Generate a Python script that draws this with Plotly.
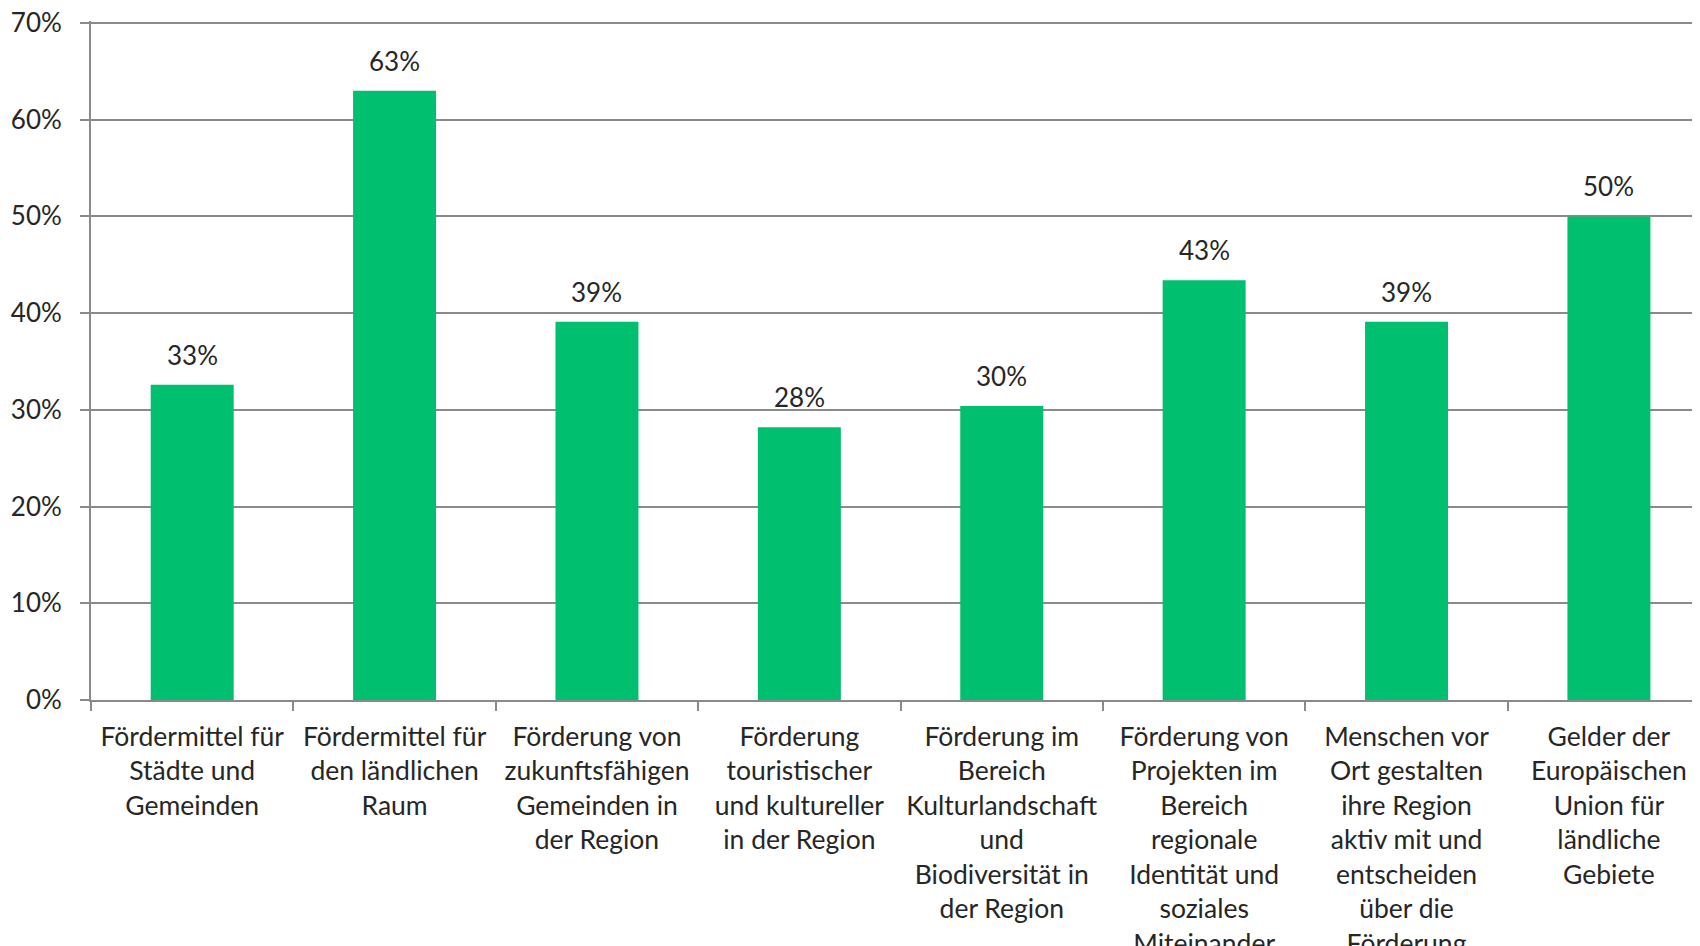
import plotly.graph_objects as go

categories = [
    "Fördermittel für<br>Städte und<br>Gemeinden",
    "Fördermittel für<br>den ländlichen<br>Raum",
    "Förderung von<br>zukunftsfähigen<br>Gemeinden in<br>der Region",
    "Förderung<br>touristischer<br>und kultureller<br>in der Region",
    "Förderung im<br>Bereich<br>Kulturlandschaft<br>und<br>Biodiversität in<br>der Region",
    "Förderung von<br>Projekten im<br>Bereich<br>regionale<br>Identität und<br>soziales<br>Miteinander",
    "Menschen vor<br>Ort gestalten<br>ihre Region<br>aktiv mit und<br>entscheiden<br>über die<br>Förderung",
    "Gelder der<br>Europäischen<br>Union für<br>ländliche<br>Gebiete",
]
values = [32.6, 63.0, 39.1, 28.2, 30.4, 43.4, 39.1, 50.0]
value_labels = [f"{v:.0f}%" for v in values]
y_ticks = [0, 10, 20, 30, 40, 50, 60, 70]

FONT = "Lato"
TEXT = "#262626"
GRID = "#8a8a8a"
GREEN = "#00BF6F"

fig = go.Figure()
fig.add_trace(go.Bar(x=categories, y=values, marker=dict(color=GREEN, line=dict(width=0)),
                     hoverinfo="skip"))

for c, v, t in zip(categories, values, value_labels):
    fig.add_annotation(x=c, y=v, text=t, showarrow=False, yanchor="bottom",
                       yshift=12, font=dict(family=FONT, size=26, color=TEXT))

fig.update_layout(
    width=1692, height=938,
    margin=dict(l=83, r=0, t=13, b=246, autoexpand=False),
    paper_bgcolor="white", plot_bgcolor="white",
    bargap=0.59, showlegend=False,
    font=dict(family=FONT, size=26, color=TEXT),
)
fig.update_xaxes(
    type="category", range=[-0.5, 7.45], tickson="boundaries",
    ticks="outside", ticklen=9, tickcolor=GRID, tickwidth=2,
    showline=True, linecolor=GRID, linewidth=2,
    showgrid=False, automargin=False, ticklabelstandoff=12,
    ticklabeloverflow="allow",
    tickfont=dict(family=FONT, size=26.5, color=TEXT),
)
fig.update_yaxes(
    range=[0, 70.2], tickvals=y_ticks, ticktext=[f"{t}%" for t in y_ticks],
    ticks="outside", ticklen=9, tickcolor=GRID, tickwidth=2,
    showline=True, linecolor=GRID, linewidth=2,
    showgrid=True, gridcolor=GRID, gridwidth=2, zeroline=False,
    automargin=False, ticklabelstandoff=13, ticklabeloverflow="allow",
    tickfont=dict(family=FONT, size=26, color=TEXT),
)

fig.write_html("out.html")
